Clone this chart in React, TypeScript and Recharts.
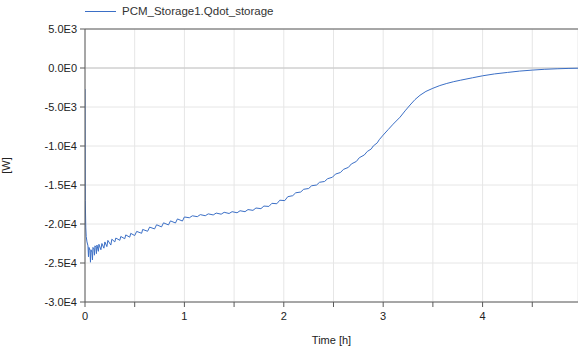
import {
  LineChart,
  Line,
  XAxis,
  YAxis,
  CartesianGrid,
  ReferenceLine,
} from "recharts";

// time in hours, heat flow in W
const timeH = [
  0, 0.003, 0.008, 0.012, 0.02, 0.03, 0.035, 0.04, 0.05, 0.055,
  0.06, 0.07, 0.075, 0.08, 0.09, 0.095, 0.1, 0.11, 0.115, 0.12,
  0.135, 0.14, 0.16, 0.17, 0.19, 0.2, 0.22, 0.23, 0.26, 0.27,
  0.3, 0.31, 0.35, 0.36, 0.4, 0.41, 0.45, 0.46, 0.5, 0.52,
  0.57, 0.58, 0.63, 0.65, 0.7, 0.72, 0.77, 0.79, 0.84, 0.86,
  0.91, 0.93, 0.98, 1.0, 1.05, 1.08, 1.13, 1.16, 1.21, 1.24,
  1.29, 1.32, 1.37, 1.4, 1.45, 1.48, 1.53, 1.56, 1.61, 1.64,
  1.69, 1.72, 1.77, 1.8, 1.85, 1.88, 1.93, 1.96, 2.01, 2.04,
  2.09, 2.12, 2.17, 2.2, 2.25, 2.28, 2.33, 2.36, 2.41, 2.44,
  2.49, 2.52, 2.57, 2.6, 2.65, 2.68, 2.73, 2.76, 2.81, 2.84,
  2.88, 2.9, 2.94, 2.96, 3.0, 3.05, 3.1, 3.17, 3.22, 3.27,
  3.32, 3.37, 3.43, 3.5, 3.57, 3.64, 3.71, 3.78, 3.9, 4.0,
  4.12, 4.25, 4.37, 4.5, 4.62, 4.75, 4.86, 4.96,
];

const qdotStorage = [
  -2700, -17000, -20500, -21600, -22300, -22800, -24200, -23000, -23400, -24900,
  -23300, -23600, -24600, -23000, -23200, -24000, -22800, -23000, -23800, -22700,
  -23500, -22600, -23300, -22500, -23100, -22300, -22900, -22100, -22700, -21950,
  -22300, -21800, -22090, -21600, -21890, -21400, -21690, -21200, -21480, -20950,
  -21190, -20700, -20930, -20400, -20630, -20100, -20370, -19850, -20120, -19600,
  -19870, -19350, -19620, -19100, -19200, -18950, -19060, -18800, -18940, -18700,
  -18840, -18600, -18740, -18500, -18650, -18420, -18560, -18300, -18420, -18150,
  -18250, -17950, -18030, -17700, -17750, -17350, -17400, -16950, -17000, -16500,
  -16370, -16000, -15900, -15550, -15450, -15100, -15000, -14650, -14550, -14200,
  -14000, -13600, -13400, -13000, -12740, -12300, -11980, -11500, -11150, -10700,
  -10380, -10000, -9600, -9200, -8600, -7900, -7200, -6300, -5500, -4750,
  -4050, -3500, -3000, -2600, -2250, -1980, -1750, -1560, -1250, -1000,
  -760, -570, -400, -270, -170, -100, -55, -30,
];

const xTicks = [0, 0.5, 1, 1.5, 2, 2.5, 3, 3.5, 4, 4.5];
const yTicks = [-30000, -25000, -20000, -15000, -10000, -5000, 0, 5000];

const seriesName = "PCM_Storage1.Qdot_storage";

const data = timeH.map((t, i) => ({ t, q: qdotStorage[i] }));

const FONT = "'Liberation Sans', Arial, sans-serif";
const BLUE = "#3b6fc6";
const AXIS = "#5a5a5a";

// 5.0E3 / 0.0E0 / -1.5E4 style labels
const sci = (v: number) => {
  if (v === 0) return "0.0E0";
  const e = Math.floor(Math.log10(Math.abs(v)));
  return `${(v / Math.pow(10, e)).toFixed(1)}E${e}`;
};

const App = () => {
  return (
    <div
      style={{
        position: "absolute",
        left: 0,
        top: 0,
        width: 578,
        height: 351,
        background: "#fff",
        fontFamily: FONT,
        overflow: "hidden",
      }}
    >
      {/* legend */}
      <div
        style={{
          position: "absolute",
          left: 85,
          top: 11,
          width: 31,
          height: 1,
          background: BLUE,
        }}
      />
      <span
        style={{
          position: "absolute",
          left: 122,
          top: 4,
          lineHeight: "15px",
          fontSize: 11.5,
          color: "#333",
          whiteSpace: "nowrap",
        }}
      >
        {seriesName}
      </span>
      <LineChart
        width={578}
        height={351}
        data={data}
        margin={{ top: 29, right: 0, bottom: 0, left: 0 }}
      >
        <CartesianGrid stroke="#e6e6e6" strokeWidth={1} />
        <XAxis
          dataKey="t"
          type="number"
          domain={[0, 4.96]}
          ticks={xTicks}
          allowDataOverflow
          height={49}
          stroke={AXIS}
          tickSize={5}
          tickMargin={5}
          tick={{ fontSize: 11, fill: "#222", fontFamily: FONT }}
          tickFormatter={(v: number) => (Number.isInteger(v) ? String(v) : "")}
          label={{
            value: "Time [h]",
            position: "insideBottom",
            offset: 7,
            style: { fontSize: 11, fill: "#222", fontFamily: FONT },
          }}
        />
        <YAxis
          type="number"
          domain={[-30000, 5000]}
          ticks={yTicks}
          width={85}
          stroke={AXIS}
          tickSize={5}
          tickMargin={3}
          tick={{ fontSize: 11, fill: "#222", fontFamily: FONT }}
          tickFormatter={sci}
          label={{
            value: "[W]",
            angle: -90,
            position: "insideLeft",
            offset: 6,
            style: {
              fontSize: 11,
              fill: "#222",
              fontFamily: FONT,
              textAnchor: "middle",
            },
          }}
        />
        <ReferenceLine y={0} stroke="#c4c4c4" />
        <ReferenceLine y={5000} stroke={AXIS} />
        <Line
          type="linear"
          dataKey="q"
          stroke={BLUE}
          strokeWidth={1}
          dot={false}
          isAnimationActive={false}
        />
      </LineChart>
    </div>
  );
};

export default App;
